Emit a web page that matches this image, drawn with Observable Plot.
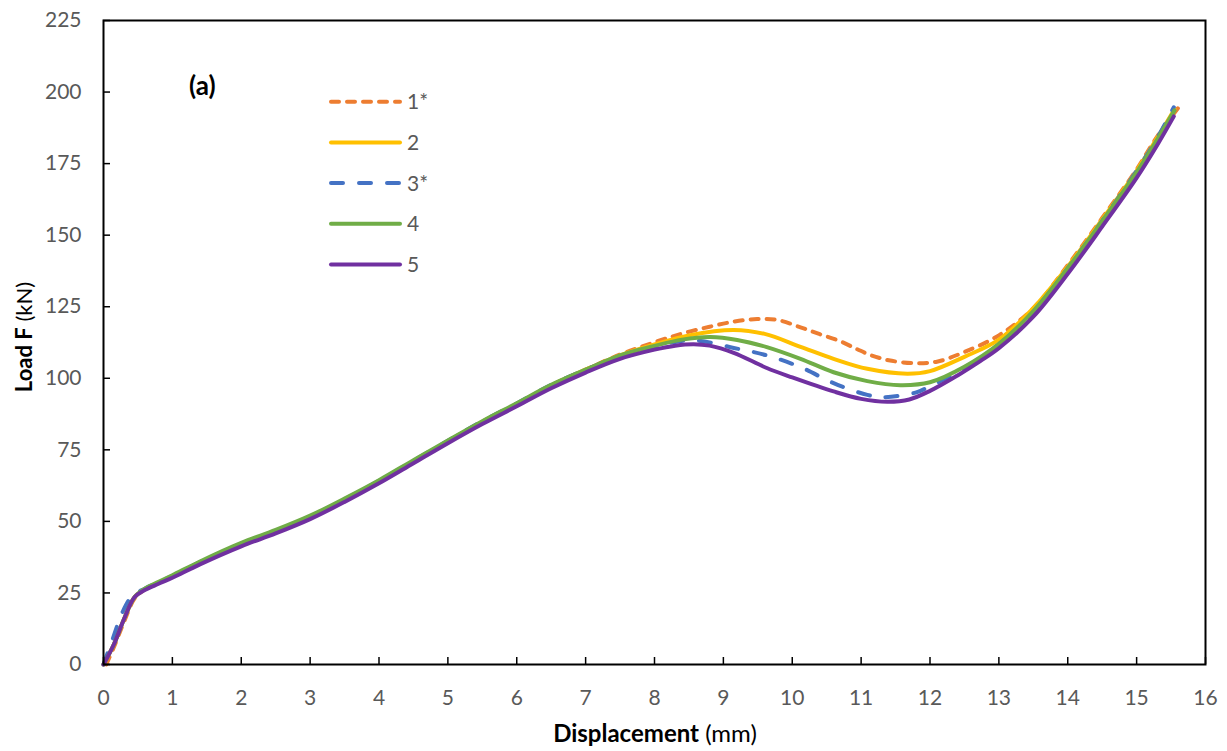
<!DOCTYPE html>
<html>
<head>
<meta charset="utf-8">
<script src="https://cdn.jsdelivr.net/npm/d3@7"></script>
<script src="https://cdn.jsdelivr.net/npm/@observablehq/plot@0.6"></script>
<style>
  body { margin: 0; background: #fff; }
  #chart { width: 1227px; height: 751px; }
</style>
</head>
<body>
<div id="chart"></div>
<script>
// Load–displacement curves for five specimens
const seriesNames  = ["1*", "2", "3*", "4", "5"];
const seriesColors = ["#ED7D31", "#FFC000", "#4472C4", "#70AD47", "#7030A0"];
const seriesDash   = ["8,8", null, "12,16", null, null];

const disp1 = [0.04,0.15,0.3,0.45,0.6,0.8,1.0,1.4,2.0,2.5,3.0,3.5,4.0,4.5,5.0,5.5,6.0,6.5,7.0,7.5,8.0,8.4,8.8,9.15,9.49,9.8,10.12,10.4,10.7,10.94,11.15,11.4,11.76,12.1,12.49,13.0,13.5,14.0,14.5,15.0,15.3,15.62];
const load1 = [0,6,15,23,26.3,28.6,30.8,35.6,42,46.5,51.5,57.5,64,71,78,84.8,91,97.5,103,108.3,112.6,115.6,118,119.8,120.7,120.3,117.8,115.4,112.9,110.2,108,106.3,105.3,105.8,109.1,115,124.5,139.5,156,173,184.5,195];

const disp2 = [0,0.15,0.3,0.45,0.6,0.8,1.0,1.4,2.0,2.5,3.0,3.5,4.0,4.5,5.0,5.5,6.0,6.5,7.0,7.5,8.0,8.5,9.15,9.6,10.12,10.6,11.09,11.67,12.0,12.5,13.0,13.5,14.0,14.5,15.0,15.3,15.55];
const load2 = [0,7,16,23.5,26.3,28.6,30.8,35.6,42,46.5,51.5,57.5,64,71,78,84.8,91,97.5,103,108,111.8,115,116.9,115.5,111,106.8,103.3,101.6,102.5,107.5,113.5,124.5,139,155.5,172.5,184,194];

const disp3 = [0,0.12,0.28,0.42,0.6,0.8,1.0,1.4,2.0,2.5,3.0,3.5,4.0,4.5,5.0,5.5,6.0,6.5,7.0,7.5,8.0,8.3,8.62,9.15,9.63,10.12,10.6,11.09,11.33,11.79,12.0,12.5,13.0,13.5,14.0,14.5,15.0,15.3,15.54];
const load3 = [0,8,18.5,24,26.5,28.8,31,35.8,42.2,46.7,51.7,57.7,64.2,71.2,78.2,85,91.2,97.7,103,107.8,111,112.7,113.2,110.6,108,103.9,98.3,94.2,93.4,95,97.2,103.5,111,123,138.5,155,172.5,184,194.7];

const disp4 = [0,0.15,0.3,0.45,0.6,0.8,1.0,1.4,2.0,2.5,3.0,3.5,4.0,4.5,5.0,5.5,6.0,6.5,7.0,7.5,8.0,8.4,8.81,9.2,9.63,10.12,10.6,11.09,11.57,12.0,12.5,13.0,13.5,14.0,14.5,15.0,15.3,15.55];
const load4 = [0,7,16,23.5,26.5,28.9,31.2,36,42.5,47,52,58,64.4,71.4,78.3,85,91.3,97.7,103,108,111.3,113.5,114.4,113.4,110.9,106.8,102.1,99,97.6,98.6,104,112,123.5,138.5,155,172,183.5,193.6];

const disp5 = [0,0.15,0.3,0.45,0.6,0.8,1.0,1.4,2.0,2.5,3.0,3.5,4.0,4.5,5.0,5.5,6.0,6.5,7.0,7.5,8.0,8.3,8.57,8.8,9.15,9.63,10.0,10.6,11.0,11.38,11.7,12.0,12.4,12.73,13.0,13.5,14.0,14.5,15.0,15.3,15.54];
const load5 = [0,7,16,23.5,26,28.2,30.3,35,41.3,45.8,50.8,56.8,63.3,70.3,77.3,84,90.2,96.5,102,106.8,110,111.4,111.9,111.4,108.9,103.6,100.3,95.4,92.8,91.8,92.6,95.6,101,106,110.5,121.5,136.5,153,170,181.5,191.5];

const xTicks = d3.range(0, 17, 1);
const yTicks = d3.range(0, 226, 25);

const dispAll = [disp1, disp2, disp3, disp4, disp5];
const loadAll = [load1, load2, load3, load4, load5];

const rowsFor = (i) => dispAll[i].map((x, j) => ({ series: seriesNames[i], disp: x, load: loadAll[i][j] }));

const FONT = "Lato, 'Open Sans', sans-serif";
const TICK_GREY = "#595959";
const LINE_W = 4;

const lineMarks = seriesNames.map((name, i) =>
  Plot.line(rowsFor(i), {
    x: "disp", y: "load",
    stroke: seriesColors[i],
    strokeWidth: LINE_W,
    strokeDasharray: seriesDash[i] || undefined,
    strokeLinecap: "round",
    curve: "catmull-rom"
  })
);

const chart = Plot.plot({
  width: 1227,
  height: 751,
  marginLeft: 103,
  marginRight: 22,
  marginTop: 20,
  marginBottom: 87,
  style: { fontFamily: FONT, background: "#fff" },
  x: { domain: [0, 16] },
  y: { domain: [0, 225] },
  marks: [
    ...lineMarks,
    Plot.frame({ stroke: "#000", strokeWidth: 2 }),
    // inward tick marks
    Plot.axisX(xTicks, { tickSize: 7, dy: -7, fill: "none", stroke: "#000", strokeWidth: 1.5, label: null }),
    Plot.axisY(yTicks, { tickSize: 7, dx: 7, fill: "none", stroke: "#000", strokeWidth: 1.5, label: null }),
    // tick labels
    Plot.axisX(xTicks, { tickSize: 0, tickPadding: 26, fontSize: 21, fill: TICK_GREY, label: null }),
    Plot.axisY(yTicks, { tickSize: 0, tickPadding: 22, fontSize: 21, fill: TICK_GREY, label: null })
  ]
});

document.getElementById("chart").appendChild(chart);

// Axis titles, panel tag and legend
const svg = d3.select(chart);

const xTitle = svg.append("text")
  .attr("x", 655).attr("y", 742)
  .attr("text-anchor", "middle")
  .attr("font-family", FONT).attr("font-size", 24).attr("fill", "#000");
xTitle.append("tspan").attr("font-weight", "bold").text("Displacement");
xTitle.append("tspan").text(" (mm)");

const yTitle = svg.append("text")
  .attr("transform", "translate(32,337) rotate(-90)")
  .attr("text-anchor", "middle")
  .attr("font-family", FONT).attr("font-size", 22).attr("fill", "#000");
yTitle.append("tspan").attr("font-weight", "bold").text("Load F");
yTitle.append("tspan").text(" (kN)");

svg.append("text")
  .attr("x", 189).attr("y", 95)
  .attr("text-anchor", "start")
  .attr("font-family", FONT).attr("font-size", 26).attr("font-weight", "bold")
  .attr("fill", "#000")
  .text("(a)");

const legend = svg.append("g");
seriesNames.forEach((name, i) => {
  const cy = 101.7 + 40.7 * i;
  legend.append("line")
    .attr("x1", 331).attr("x2", 400)
    .attr("y1", cy).attr("y2", cy)
    .attr("stroke", seriesColors[i])
    .attr("stroke-width", LINE_W)
    .attr("stroke-linecap", "round")
    .attr("stroke-dasharray", seriesDash[i]);
  legend.append("text")
    .attr("x", 407).attr("y", cy + 7.5)
    .attr("text-anchor", "start")
    .attr("font-family", FONT).attr("font-size", 21)
    .attr("fill", TICK_GREY)
    .text(name);
});
</script>
</body>
</html>
